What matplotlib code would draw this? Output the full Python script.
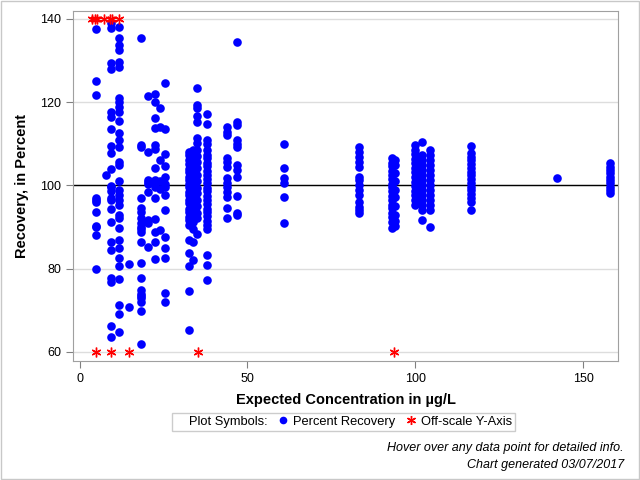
import numpy as np
import matplotlib.pyplot as plt
from matplotlib.lines import Line2D
from matplotlib.patches import Rectangle

plt.rcParams['font.family'] = ['Liberation Sans', 'DejaVu Sans']

# recovery values (percent) grouped by expected concentration (ug/L)
rec_4_8 = [137.6, 125.1, 121.7, 97.0, 96.5, 96.0, 93.6, 90.3, 90.0, 88.1, 80.0]
rec_7_7 = [102.5]
rec_9_2 = [139.0, 137.8, 129.4, 128.0, 117.7, 116.5, 113.6, 109.5, 107.8, 104.0,
           99.9, 99.6, 98.7, 97.0, 96.5, 94.4, 91.2, 86.4, 84.5, 77.8, 76.8, 66.2, 63.6]
rec_11_7 = [138.1, 135.4, 133.8, 132.6, 129.7, 128.5, 121.0, 120.0, 118.9, 117.7,
            115.5, 112.6, 110.9, 109.2, 105.6, 104.9, 101.0, 99.0, 97.7, 96.5, 95.3,
            92.9, 92.2, 89.8, 86.9, 85.0, 82.6, 80.7, 77.5, 71.3, 69.1, 64.8]
rec_14_7 = [81.1, 70.8]
rec_18_2 = [135.4, 109.7, 109.2, 97.0, 94.6, 93.6, 92.2, 91.0, 90.0, 89.5, 88.8,
            86.4, 81.4, 77.8, 74.9, 74.0, 73.5, 72.9, 72.0, 69.8, 61.9]
rec_20_5 = [121.5, 108.0, 101.2, 100.8, 100.3, 98.4, 91.7, 91.0, 85.2]
rec_22_3 = [122.0, 120.0, 116.2, 113.8, 109.7, 108.8, 104.2, 101.3, 100.6, 99.6,
            97.0, 91.9, 88.8, 86.4, 82.3]
rec_24 = [118.6, 114.0, 106.1, 101.0, 99.2, 89.3]
rec_25_3 = [124.6, 113.6, 107.6, 104.7, 102.0, 100.4, 99.6, 97.7, 94.1, 87.6,
            85.0, 82.6, 74.2, 72.0]
rec_32_5 = [108.0, 107.4, 106.1, 105.2, 104.0, 103.1, 101.9, 101.2, 100.4, 99.6,
            98.3, 97.6, 96.4, 95.7, 94.3, 93.6, 92.4, 91.7, 90.5, 86.9, 83.8, 80.7,
            74.7, 65.3]
rec_33_8 = [108.6, 107.0, 105.4, 104.1, 102.6, 101.1, 99.8, 98.6, 97.1, 95.4, 94.2,
            92.6, 91.1, 89.5, 86.4, 82.1]
rec_35 = [123.4, 119.3, 118.6, 116.7, 115.2, 111.4, 110.1, 108.4, 107.1, 105.6,
          104.1, 102.4, 101.1, 99.4, 98.1, 96.6, 95.1, 93.4, 92.1, 88.3]
rec_37_8 = [117.2, 114.8, 110.9, 110.0, 108.6, 107.4, 106.5, 105.4, 104.6, 103.4,
            102.5, 101.6, 100.5, 99.4, 98.6, 97.4, 96.5, 95.6, 94.4, 93.5, 92.6,
            91.4, 90.5, 89.6, 83.3, 80.9, 77.3]
rec_44 = [114.1, 112.9, 112.1, 106.6, 105.5, 104.5, 101.8, 100.6, 99.5, 98.3, 97.2,
          94.6, 92.2]
rec_46_8 = [134.5, 115.2, 114.5, 110.9, 110.0, 109.2, 105.0, 103.7, 102.0, 97.5,
            93.4, 92.9]
rec_61 = [110.0, 104.2, 101.8, 100.6, 97.2, 91.0]
rec_83_3 = [109.2, 108.1, 106.9, 105.7, 104.4, 102.1, 101.2, 100.1, 98.9, 97.7,
            96.1, 94.9, 94.1, 93.3]
rec_93 = [106.6, 105.4, 104.6, 103.4, 102.5, 101.6, 100.4, 99.5, 98.6, 97.4, 96.5,
          95.4, 94.6, 93.4, 92.5, 91.2, 89.8]
rec_94 = [106.0, 104.8, 103.0, 101.0, 99.0, 97.2, 95.0, 93.0, 91.5, 90.3]
rec_100 = [109.7, 108.6, 107.5, 106.4, 105.3, 104.2, 103.1, 102.0, 100.9, 99.8,
           98.7, 97.6, 96.5, 95.3]
rec_102 = [110.5, 107.3, 106.2, 105.0, 103.8, 102.6, 101.4, 100.2, 99.0, 97.8,
           96.6, 95.3, 94.1, 91.7]
rec_104_5 = [108.5, 107.4, 106.2, 105.0, 103.8, 102.6, 101.4, 100.2, 99.0, 97.8,
             96.6, 95.3, 94.1, 90.1]
rec_116_7 = [109.5, 107.8, 106.9, 106.0, 105.1, 104.2, 103.3, 102.4, 101.5, 100.6,
             99.7, 98.8, 97.9, 97.0, 96.0, 94.1]
rec_142_3 = [101.7]
rec_158 = [105.3, 104.5, 103.7, 102.9, 102.1, 101.3, 100.5, 99.7, 98.9, 98.1]

groups = [
    (4.8, rec_4_8), (7.7, rec_7_7), (9.2, rec_9_2), (11.7, rec_11_7),
    (14.7, rec_14_7), (18.2, rec_18_2), (20.5, rec_20_5), (22.3, rec_22_3),
    (24.0, rec_24), (25.3, rec_25_3), (32.5, rec_32_5), (33.8, rec_33_8),
    (35.0, rec_35), (37.8, rec_37_8), (44.0, rec_44), (46.8, rec_46_8),
    (61.0, rec_61), (83.3, rec_83_3), (93.0, rec_93), (94.0, rec_94),
    (100.0, rec_100), (102.0, rec_102), (104.5, rec_104_5), (116.7, rec_116_7),
    (142.3, rec_142_3), (158.0, rec_158),
]

# off-scale points, drawn at the axis limits
off_high_x = [3.8, 4.6, 5.2, 7.3, 8.9, 9.6, 11.7]
off_low_x = [4.8, 9.2, 14.6, 35.4, 93.7]

x_ticks = [0, 50, 100, 150]
y_ticks = [60, 80, 100, 120, 140]

fig = plt.figure(figsize=(6.4, 4.8), dpi=100)
ax = fig.add_axes([0.114, 0.248, 0.852, 0.729])

for y in y_ticks:
    ax.axhline(y, color='#dddddd', lw=1, zorder=0)
ax.axhline(100, color='black', lw=1, zorder=1)

xs = []
ys = []
for conc, recs in groups:
    xs += [conc] * len(recs)
    ys += recs
ax.plot(xs, ys, 'o', color='#0000ff', ms=6.2, mec='none', zorder=3)

ax.plot(off_high_x, [140] * len(off_high_x), marker=(6, 2, 0), color='red',
        ms=7, mew=1, ls='none', zorder=4)
ax.plot(off_low_x, [60] * len(off_low_x), marker=(6, 2, 0), color='red',
        ms=7, mew=1, ls='none', zorder=4)

ax.set_xlim(-2, 160.5)
ax.set_ylim(57.8, 141.9)
ax.set_xticks(x_ticks)
ax.set_yticks(y_ticks)
for s in ax.spines.values():
    s.set_color('#a0a0a0')
ax.tick_params(colors='#808080', labelcolor='black', labelsize=9, length=5)

ax.set_xlabel('Expected Concentration in µg/L', fontsize=10.5, fontweight='bold',
              labelpad=6)
ax.set_ylabel('Recovery, in Percent', fontsize=10.5, fontweight='bold', labelpad=8)

handles = [
    Line2D([], [], ls='none', marker=None),
    Line2D([], [], ls='none', marker='o', color='#0000ff', ms=5.5, mec='none'),
    Line2D([], [], ls='none', marker=(6, 2, 0), color='red', ms=6.5, mew=1),
]
labels = ['Plot Symbols:', 'Percent Recovery', 'Off-scale Y-Axis']
leg = fig.legend(handles, labels, ncol=3, loc='center', bbox_to_anchor=(0.537, 0.121),
                 fontsize=9.3, frameon=True, fancybox=False, edgecolor='#c0c0c0',
                 handlelength=0.6, handletextpad=0.5, columnspacing=0.9,
                 borderpad=0.2)
leg.get_frame().set_linewidth(1)

fig.text(0.975, 0.066, 'Hover over any data point for detailed info.', ha='right',
         va='center', fontsize=9, style='italic')
fig.text(0.975, 0.031, 'Chart generated 03/07/2017', ha='right', va='center',
         fontsize=9, style='italic')

fig.patches.append(Rectangle((0.002, 0.002), 0.996, 0.996, transform=fig.transFigure,
                             fill=False, edgecolor='#c8c8c8', lw=1))

plt.savefig('out.png', dpi=100)
